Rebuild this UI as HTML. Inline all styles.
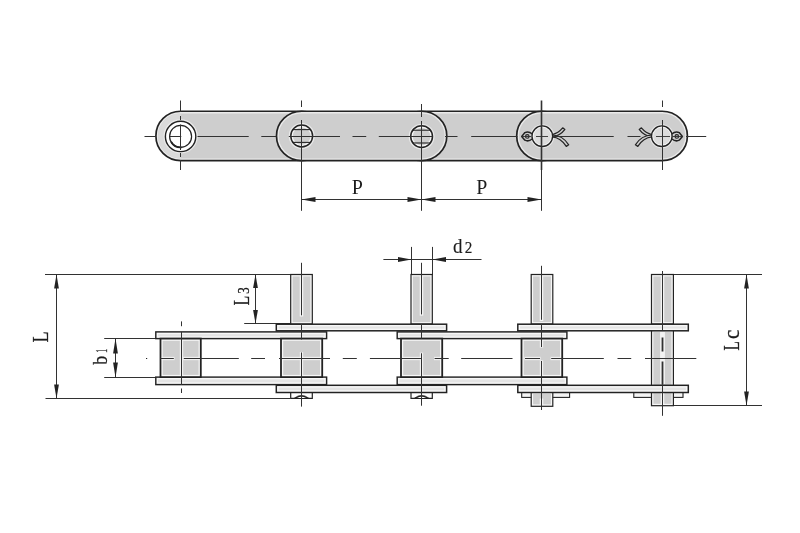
<!DOCTYPE html>
<html><head><meta charset="utf-8"><title>Chain drawing</title>
<style>
html,body{margin:0;padding:0;background:#fff;}
body{width:800px;height:533px;overflow:hidden;}
svg{display:block;filter:grayscale(1);}
svg text{font-family:"Liberation Serif","DejaVu Serif",serif;fill:#1c1c1c;stroke:#1c1c1c;}
</style></head><body>
<svg width="800" height="533" viewBox="0 0 800 533">
<defs><filter id="soft" x="0" y="0" width="800" height="533" filterUnits="userSpaceOnUse"><feGaussianBlur stdDeviation="0.5"/></filter></defs>
<rect x="0" y="0" width="800" height="533" fill="#ffffff"/>
<g filter="url(#soft)">
<path d="M180.6,111.25 L301.7,111.25 A25.2,24.65 0 0 1 301.7,160.55 L180.6,160.55 A24.7,24.65 0 0 1 180.6,111.25 Z" fill="#eaeaea" stroke="#242424" stroke-width="1.7"/>
<path d="M180.6,113.4 L301.7,113.4 A23.05,22.5 0 0 1 301.7,158.4 L180.6,158.4 A22.55,22.5 0 0 1 180.6,113.4 Z" fill="#cecece"/>
<path d="M180.6,113.35 A22.599999999999998,22.549999999999997 0 0 0 180.6,158.45000000000002 Z" fill="#dadada"/>
<path d="M421.6,111.25 L541.9,111.25 A25.2,24.65 0 0 1 541.9,160.55 L421.6,160.55 A25.2,24.65 0 0 1 421.6,111.25 Z" fill="#eaeaea" stroke="#242424" stroke-width="1.7"/>
<path d="M421.6,113.4 L541.9,113.4 A23.05,22.5 0 0 1 541.9,158.4 L421.6,158.4 A23.05,22.5 0 0 1 421.6,113.4 Z" fill="#cecece"/>
<path d="M301.7,111.25 L421.6,111.25 A25.2,24.65 0 0 1 421.6,160.55 L301.7,160.55 A25.2,24.65 0 0 1 301.7,111.25 Z" fill="#eaeaea" stroke="#242424" stroke-width="1.7"/>
<path d="M301.7,113.4 L421.6,113.4 A23.05,22.5 0 0 1 421.6,158.4 L301.7,158.4 A23.05,22.5 0 0 1 301.7,113.4 Z" fill="#cecece"/>
<path d="M541.9,111.25 L662.2,111.25 A25.2,24.65 0 0 1 662.2,160.55 L541.9,160.55 A25.2,24.65 0 0 1 541.9,111.25 Z" fill="#eaeaea" stroke="#242424" stroke-width="1.7"/>
<path d="M541.9,113.4 L662.2,113.4 A23.05,22.5 0 0 1 662.2,158.4 L541.9,158.4 A23.05,22.5 0 0 1 541.9,113.4 Z" fill="#cecece"/>
<circle cx="180.6" cy="136.4" r="17.2" fill="#eaeaea"/>
<circle cx="180.6" cy="136.4" r="15.2" fill="#fff" stroke="#242424" stroke-width="1.4"/>
<circle cx="180.6" cy="136.4" r="11.0" fill="#fff" stroke="#242424" stroke-width="1.2"/>
<path d="M171.2,142.0 A11,11 0 0 0 181.6,147.4" fill="none" stroke="#242424" stroke-width="1.8"/>
<circle cx="301.7" cy="136.0" r="12.950000000000001" fill="#eaeaea"/>
<circle cx="301.7" cy="136.0" r="10.9" fill="#f7f7f7" stroke="#242424" stroke-width="1.5"/>
<circle cx="301.7" cy="136.0" r="8.85" fill="#cecece"/>
<line x1="292.8" y1="129.6" x2="310.59999999999997" y2="129.6" stroke="#242424" stroke-width="1.1" />
<line x1="292.8" y1="142.4" x2="310.59999999999997" y2="142.4" stroke="#242424" stroke-width="1.1" />
<circle cx="421.6" cy="136.6" r="12.950000000000001" fill="#eaeaea"/>
<circle cx="421.6" cy="136.6" r="10.9" fill="#f7f7f7" stroke="#242424" stroke-width="1.5"/>
<circle cx="421.6" cy="136.6" r="8.85" fill="#cecece"/>
<line x1="412.70000000000005" y1="130.2" x2="430.5" y2="130.2" stroke="#242424" stroke-width="1.1" />
<line x1="412.70000000000005" y1="143.0" x2="430.5" y2="143.0" stroke="#242424" stroke-width="1.1" />
<circle cx="542.3" cy="136.20000000000002" r="12.0" fill="#eaeaea"/>
<g transform="translate(541.9,136.4) scale(1,1)">
<path d="M10.2,-1.8 Q16.5,-3.4 20.8,-8.6 L23,-7 Q18.5,-0.8 10.2,0.6 Z" fill="#cecece" stroke="#242424" stroke-width="1.25" stroke-linejoin="round"/>
<path d="M10.2,0.4 Q19,1.2 24.4,10 L26.8,8.4 Q21,-1 10.2,-1.4 Z" fill="#cecece" stroke="#242424" stroke-width="1.25" stroke-linejoin="round"/>
<path d="M-9.6,-2.6 Q-13.6,-5.6 -17,-3.8 L-20.2,-0 L-17,3.8 Q-13.6,5.6 -9.6,2.6" fill="#cecece" stroke="#242424" stroke-width="1.5" stroke-linejoin="round"/>
<circle cx="-14.6" cy="0" r="1.8" fill="#bdbdbd" stroke="#242424" stroke-width="1.1"/>
</g>
<circle cx="542.3" cy="136.20000000000002" r="10.3" fill="#f7f7f7" stroke="#242424" stroke-width="1.4"/>
<circle cx="542.3" cy="136.20000000000002" r="8.600000000000001" fill="#dcdcdc"/>
<circle cx="661.8000000000001" cy="136.20000000000002" r="12.0" fill="#eaeaea"/>
<g transform="translate(662.2,136.4) scale(-1,1)">
<path d="M10.2,-1.8 Q16.5,-3.4 20.8,-8.6 L23,-7 Q18.5,-0.8 10.2,0.6 Z" fill="#cecece" stroke="#242424" stroke-width="1.25" stroke-linejoin="round"/>
<path d="M10.2,0.4 Q19,1.2 24.4,10 L26.8,8.4 Q21,-1 10.2,-1.4 Z" fill="#cecece" stroke="#242424" stroke-width="1.25" stroke-linejoin="round"/>
<path d="M-9.6,-2.6 Q-13.6,-5.6 -17,-3.8 L-20.2,-0 L-17,3.8 Q-13.6,5.6 -9.6,2.6" fill="#cecece" stroke="#242424" stroke-width="1.5" stroke-linejoin="round"/>
<circle cx="-14.6" cy="0" r="1.8" fill="#bdbdbd" stroke="#242424" stroke-width="1.1"/>
</g>
<circle cx="661.8000000000001" cy="136.20000000000002" r="10.3" fill="#f7f7f7" stroke="#242424" stroke-width="1.4"/>
<circle cx="661.8000000000001" cy="136.20000000000002" r="8.600000000000001" fill="#dcdcdc"/>
<line x1="144.5" y1="136.5" x2="156" y2="136.5" stroke="#303030" stroke-width="1.05"/>
<line x1="170" y1="136.5" x2="181.3" y2="136.5" stroke="#303030" stroke-width="1.05"/>
<line x1="197.5" y1="136.5" x2="248.7" y2="136.5" stroke="#303030" stroke-width="1.05"/>
<line x1="261.3" y1="136.5" x2="276.2" y2="136.5" stroke="#303030" stroke-width="1.05"/>
<line x1="288.8" y1="136.5" x2="340" y2="136.5" stroke="#303030" stroke-width="1.05"/>
<line x1="352.5" y1="136.5" x2="366.2" y2="136.5" stroke="#303030" stroke-width="1.05"/>
<line x1="378.8" y1="136.5" x2="432.5" y2="136.5" stroke="#303030" stroke-width="1.05"/>
<line x1="445" y1="136.5" x2="457.5" y2="136.5" stroke="#303030" stroke-width="1.05"/>
<line x1="471.2" y1="136.5" x2="517.5" y2="136.5" stroke="#303030" stroke-width="1.05"/>
<line x1="552.5" y1="136.5" x2="613.7" y2="136.5" stroke="#303030" stroke-width="1.05"/>
<line x1="627.5" y1="136.5" x2="640.5" y2="136.5" stroke="#303030" stroke-width="1.05"/>
<line x1="686" y1="136.5" x2="706.2" y2="136.5" stroke="#303030" stroke-width="1.05"/>
<line x1="521" y1="136.5" x2="531" y2="136.5" stroke="#303030" stroke-width="0.9"/>
<line x1="536" y1="136.5" x2="548" y2="136.5" stroke="#303030" stroke-width="0.9"/>
<line x1="656" y1="136.5" x2="670" y2="136.5" stroke="#303030" stroke-width="0.9"/>
<line x1="672.5" y1="136.5" x2="683" y2="136.5" stroke="#303030" stroke-width="0.9"/>
<line x1="180.5" y1="100.5" x2="180.5" y2="112" stroke="#303030" stroke-width="1.05"/>
<line x1="180.5" y1="116" x2="180.5" y2="120" stroke="#303030" stroke-width="1.05"/>
<line x1="180.5" y1="124.5" x2="180.5" y2="150" stroke="#303030" stroke-width="1.05"/>
<line x1="180.5" y1="153" x2="180.5" y2="157" stroke="#303030" stroke-width="1.05"/>
<line x1="180.5" y1="160" x2="180.5" y2="170" stroke="#303030" stroke-width="1.05"/>
<line x1="301.5" y1="100.5" x2="301.5" y2="107" stroke="#303030" stroke-width="1.05"/>
<line x1="301.5" y1="120" x2="301.5" y2="170" stroke="#303030" stroke-width="1.05"/>
<line x1="421.5" y1="104" x2="421.5" y2="117" stroke="#303030" stroke-width="1.05"/>
<line x1="421.5" y1="121" x2="421.5" y2="170" stroke="#303030" stroke-width="1.05"/>
<line x1="541.5" y1="100.5" x2="541.5" y2="170" stroke="#303030" stroke-width="1.6"/>
<line x1="662.5" y1="100.5" x2="662.5" y2="107" stroke="#303030" stroke-width="1.05"/>
<line x1="662.5" y1="120" x2="662.5" y2="170" stroke="#303030" stroke-width="1.05"/>
<line x1="301.5" y1="170" x2="301.5" y2="210.8" stroke="#303030" stroke-width="1.05"/>
<line x1="421.5" y1="170" x2="421.5" y2="210.8" stroke="#303030" stroke-width="1.05"/>
<line x1="541.5" y1="170" x2="541.5" y2="210.8" stroke="#303030" stroke-width="1.05"/>
<line x1="301.5" y1="199.5" x2="421.5" y2="199.5" stroke="#303030" stroke-width="1.05"/>
<line x1="421.5" y1="199.5" x2="541.5" y2="199.5" stroke="#303030" stroke-width="1.05"/>
<polygon points="301.5,199.5 315.5,197.1 315.5,201.9" fill="#242424"/>
<polygon points="421.5,199.5 407.5,197.1 407.5,201.9" fill="#242424"/>
<polygon points="421.5,199.5 435.5,197.1 435.5,201.9" fill="#242424"/>
<polygon points="541.5,199.5 527.5,197.1 527.5,201.9" fill="#242424"/>
<line x1="45" y1="274.5" x2="312.2" y2="274.5" stroke="#303030" stroke-width="1.05"/>
<line x1="45.5" y1="398.5" x2="290" y2="398.5" stroke="#303030" stroke-width="1.05"/>
<line x1="56.5" y1="274.8" x2="56.5" y2="398.4" stroke="#303030" stroke-width="1.05"/>
<polygon points="56.5,274.5 54.1,288.5 58.9,288.5" fill="#242424"/>
<polygon points="56.5,398.5 54.1,384.5 58.9,384.5" fill="#242424"/>
<line x1="104.2" y1="338.5" x2="160.5" y2="338.5" stroke="#303030" stroke-width="1.05"/>
<line x1="104.2" y1="377.5" x2="160.5" y2="377.5" stroke="#303030" stroke-width="1.05"/>
<line x1="115.5" y1="338.6" x2="115.5" y2="377.1" stroke="#303030" stroke-width="1.05"/>
<polygon points="115.5,338.5 113.1,353.5 117.9,353.5" fill="#242424"/>
<polygon points="115.5,377.5 113.1,362.5 117.9,362.5" fill="#242424"/>
<line x1="244.2" y1="323.5" x2="290.7" y2="323.5" stroke="#303030" stroke-width="1.05"/>
<line x1="255.5" y1="274.8" x2="255.5" y2="323.9" stroke="#303030" stroke-width="1.05"/>
<polygon points="255.5,274.5 253.1,288.0 257.9,288.0" fill="#242424"/>
<polygon points="255.5,323.5 253.1,310.0 257.9,310.0" fill="#242424"/>
<line x1="411.5" y1="246.9" x2="411.5" y2="275" stroke="#303030" stroke-width="1.05"/>
<line x1="432.5" y1="246.9" x2="432.5" y2="275" stroke="#303030" stroke-width="1.05"/>
<line x1="383.4" y1="259.5" x2="481.5" y2="259.5" stroke="#303030" stroke-width="1.05"/>
<polygon points="411.5,259.5 398.0,257.1 398.0,261.9" fill="#242424"/>
<polygon points="432.5,259.5 446.0,257.1 446.0,261.9" fill="#242424"/>
<line x1="673.4" y1="274.5" x2="762" y2="274.5" stroke="#303030" stroke-width="1.05"/>
<line x1="673.4" y1="405.5" x2="762" y2="405.5" stroke="#303030" stroke-width="1.05"/>
<line x1="746.5" y1="274.8" x2="746.5" y2="405.7" stroke="#303030" stroke-width="1.05"/>
<polygon points="746.5,274.5 744.1,288.5 748.9,288.5" fill="#242424"/>
<polygon points="746.5,405.5 744.1,391.5 748.9,391.5" fill="#242424"/>
<rect x="290.7" y="274.5" width="21.6" height="49.5" fill="#f7f7f7" stroke="#242424" stroke-width="1.2"/>
<rect x="292.6" y="276.4" width="17.8" height="45.7" fill="#cecece"/>
<rect x="411" y="274.5" width="21.3" height="49.5" fill="#f7f7f7" stroke="#242424" stroke-width="1.2"/>
<rect x="412.9" y="276.4" width="17.5" height="45.7" fill="#cecece"/>
<rect x="531.2" y="274.5" width="21.6" height="49.5" fill="#f7f7f7" stroke="#242424" stroke-width="1.2"/>
<rect x="533.1" y="276.4" width="17.8" height="45.7" fill="#cecece"/>
<rect x="651.5" y="274.5" width="21.9" height="49.5" fill="#f7f7f7" stroke="#242424" stroke-width="1.2"/>
<rect x="653.4" y="276.4" width="18.1" height="45.7" fill="#cecece"/>
<path d="M290.7,392.5 L290.7,398.3 L312.3,398.3 L312.3,392.5" fill="#fff" stroke="#242424" stroke-width="1.2"/>
<path d="M294.5,398 Q301.5,392.6 308.5,398 Z" fill="#242424" stroke="#242424" stroke-width="0.6"/>
<path d="M297.0,398 Q301.5,395.4 306.0,398 Z" fill="#fff"/>
<path d="M411,392.5 L411,398.3 L432.3,398.3 L432.3,392.5" fill="#fff" stroke="#242424" stroke-width="1.2"/>
<path d="M414.65,398 Q421.65,392.6 428.65,398 Z" fill="#242424" stroke="#242424" stroke-width="0.6"/>
<path d="M417.15,398 Q421.65,395.4 426.15,398 Z" fill="#fff"/>
<rect x="521.7" y="391.8" width="47.9" height="5.6" fill="#f7f7f7" stroke="#242424" stroke-width="1.1"/>
<rect x="523.55" y="393.65" width="44.2" height="1.9" fill="#f4f4f4"/>
<rect x="633.8" y="391.8" width="49.2" height="5.6" fill="#f7f7f7" stroke="#242424" stroke-width="1.1"/>
<rect x="635.65" y="393.65" width="45.5" height="1.9" fill="#f4f4f4"/>
<rect x="531.2" y="391.8" width="21.6" height="14.5" fill="#f7f7f7" stroke="#242424" stroke-width="1.2"/>
<rect x="533.1" y="393.7" width="17.8" height="10.7" fill="#cecece"/>
<rect x="651.5" y="330" width="21.9" height="75.7" fill="#f7f7f7" stroke="#242424" stroke-width="1.2"/>
<rect x="653.4" y="331.9" width="18.1" height="71.9" fill="#cecece"/>
<rect x="155.8" y="331.9" width="170.8" height="6.7" fill="#f7f7f7" stroke="#242424" stroke-width="1.45"/>
<rect x="158.03" y="334.12" width="166.35" height="2.25" fill="#e4e4e4"/>
<rect x="155.8" y="377.1" width="170.8" height="7.5" fill="#f7f7f7" stroke="#242424" stroke-width="1.45"/>
<rect x="158.03" y="379.33" width="166.35" height="3.05" fill="#e4e4e4"/>
<rect x="397.2" y="331.9" width="169.7" height="6.7" fill="#f7f7f7" stroke="#242424" stroke-width="1.45"/>
<rect x="399.43" y="334.12" width="165.25" height="2.25" fill="#e4e4e4"/>
<rect x="397.2" y="377.1" width="169.7" height="7.5" fill="#f7f7f7" stroke="#242424" stroke-width="1.45"/>
<rect x="399.43" y="379.33" width="165.25" height="3.05" fill="#e4e4e4"/>
<rect x="276.3" y="324.2" width="170.3" height="6.6" fill="#f7f7f7" stroke="#242424" stroke-width="1.5"/>
<rect x="278.55" y="326.45" width="165.8" height="2.1" fill="#e4e4e4"/>
<rect x="276.3" y="385.3" width="170.3" height="7.2" fill="#f7f7f7" stroke="#242424" stroke-width="1.5"/>
<rect x="278.55" y="387.55" width="165.8" height="2.7" fill="#e4e4e4"/>
<rect x="517.8" y="324.2" width="170.5" height="6.6" fill="#f7f7f7" stroke="#242424" stroke-width="1.5"/>
<rect x="520.05" y="326.45" width="166.0" height="2.1" fill="#e4e4e4"/>
<rect x="517.8" y="385.3" width="170.5" height="7.2" fill="#f7f7f7" stroke="#242424" stroke-width="1.5"/>
<rect x="520.05" y="387.55" width="166.0" height="2.7" fill="#e4e4e4"/>
<rect x="160.5" y="338.6" width="40.3" height="38.5" fill="#f7f7f7" stroke="#242424" stroke-width="1.8"/>
<rect x="162.7" y="340.8" width="35.9" height="34.1" fill="#cecece"/>
<rect x="179.8" y="340" width="3.4" height="35.8" fill="#f7f7f7" opacity="0.85"/>
<rect x="161.8" y="356.8" width="12.7" height="3.4" fill="#f7f7f7" opacity="0.85"/>
<rect x="183" y="356.8" width="16.6" height="3.4" fill="#f7f7f7" opacity="0.85"/>
<rect x="281" y="338.6" width="41.2" height="38.5" fill="#f7f7f7" stroke="#242424" stroke-width="1.8"/>
<rect x="283.2" y="340.8" width="36.8" height="34.1" fill="#cecece"/>
<rect x="299.8" y="352" width="3.4" height="23.8" fill="#f7f7f7" opacity="0.85"/>
<rect x="282.2" y="356.8" width="38.8" height="3.4" fill="#f7f7f7" opacity="0.85"/>
<rect x="401" y="338.6" width="41.2" height="38.5" fill="#f7f7f7" stroke="#242424" stroke-width="1.8"/>
<rect x="403.2" y="340.8" width="36.8" height="34.1" fill="#cecece"/>
<rect x="419.8" y="352.6" width="3.4" height="23.2" fill="#f7f7f7" opacity="0.85"/>
<rect x="402.2" y="356.8" width="19.8" height="3.4" fill="#f7f7f7" opacity="0.85"/>
<rect x="434" y="356.8" width="7.0" height="3.4" fill="#f7f7f7" opacity="0.85"/>
<rect x="521.5" y="338.6" width="40.7" height="38.5" fill="#f7f7f7" stroke="#242424" stroke-width="1.8"/>
<rect x="523.7" y="340.8" width="36.3" height="34.1" fill="#cecece"/>
<rect x="539.8" y="340" width="3.4" height="7.6" fill="#f7f7f7" opacity="0.85"/>
<rect x="539.8" y="360.4" width="3.4" height="15.4" fill="#f7f7f7" opacity="0.85"/>
<rect x="524.4" y="356.8" width="16.2" height="3.4" fill="#f7f7f7" opacity="0.85"/>
<rect x="550.6" y="356.8" width="10.4" height="3.4" fill="#f7f7f7" opacity="0.85"/>
<rect x="299.7" y="276.2" width="3.6" height="40.3" fill="#f7f7f7" opacity="0.9"/>
<rect x="419.7" y="276.2" width="3.6" height="39.4" fill="#f7f7f7" opacity="0.9"/>
<rect x="539.7" y="276.2" width="3.6" height="44.8" fill="#f7f7f7" opacity="0.9"/>
<rect x="660.7" y="276.2" width="3.6" height="46.6" fill="#f7f7f7" opacity="0.9"/>
<rect x="660.1" y="332" width="4.8" height="52" fill="#f7f7f7" opacity="0.9"/>
<rect x="660.7" y="393.5" width="3.6" height="11" fill="#f7f7f7" opacity="0.9"/>
<rect x="539.7" y="398.5" width="3.6" height="6.5" fill="#f7f7f7" opacity="0.9"/>
<line x1="301.5" y1="262.8" x2="301.5" y2="315.3" stroke="#303030" stroke-width="1.05"/>
<line x1="421.5" y1="262.8" x2="421.5" y2="314.4" stroke="#303030" stroke-width="1.05"/>
<line x1="541.5" y1="265.8" x2="541.5" y2="319.8" stroke="#303030" stroke-width="1.05"/>
<line x1="662.5" y1="271" x2="662.5" y2="330" stroke="#303030" stroke-width="1.05"/>
<line x1="181.5" y1="321.4" x2="181.5" y2="326.2" stroke="#303030" stroke-width="1.05"/>
<line x1="181.5" y1="331.8" x2="181.5" y2="385" stroke="#303030" stroke-width="1.05"/>
<line x1="181.5" y1="388.5" x2="181.5" y2="393" stroke="#303030" stroke-width="1.05"/>
<line x1="301.5" y1="324" x2="301.5" y2="339.5" stroke="#303030" stroke-width="1.05"/>
<line x1="301.5" y1="352.5" x2="301.5" y2="406.6" stroke="#303030" stroke-width="1.05"/>
<line x1="421.5" y1="324" x2="421.5" y2="339" stroke="#303030" stroke-width="1.05"/>
<line x1="421.5" y1="353.3" x2="421.5" y2="405.7" stroke="#303030" stroke-width="1.05"/>
<line x1="541.5" y1="324" x2="541.5" y2="347" stroke="#303030" stroke-width="1.05"/>
<line x1="541.5" y1="361" x2="541.5" y2="410" stroke="#303030" stroke-width="1.05"/>
<line x1="662.5" y1="337.5" x2="662.5" y2="351.5" stroke="#303030" stroke-width="1.8"/>
<line x1="662.5" y1="361.5" x2="662.5" y2="384.5" stroke="#303030" stroke-width="1.8"/>
<line x1="662.5" y1="384.3" x2="662.5" y2="415.8" stroke="#303030" stroke-width="1.05"/>
<rect x="146" y="358" width="1.2" height="1" fill="#242424"/>
<line x1="160" y1="358.5" x2="173.8" y2="358.5" stroke="#303030" stroke-width="1.05"/>
<line x1="183.8" y1="358.5" x2="238.8" y2="358.5" stroke="#303030" stroke-width="1.05"/>
<line x1="251.2" y1="358.5" x2="265" y2="358.5" stroke="#303030" stroke-width="1.05"/>
<line x1="279" y1="358.5" x2="330" y2="358.5" stroke="#303030" stroke-width="1.05"/>
<line x1="342.8" y1="358.5" x2="356.8" y2="358.5" stroke="#303030" stroke-width="1.05"/>
<line x1="369.9" y1="358.5" x2="421.5" y2="358.5" stroke="#303030" stroke-width="1.05"/>
<line x1="434.6" y1="358.5" x2="448.7" y2="358.5" stroke="#303030" stroke-width="1.05"/>
<line x1="461.2" y1="358.5" x2="512.5" y2="358.5" stroke="#303030" stroke-width="1.05"/>
<line x1="525" y1="358.5" x2="540" y2="358.5" stroke="#303030" stroke-width="1.05"/>
<line x1="551.2" y1="358.5" x2="603.8" y2="358.5" stroke="#303030" stroke-width="1.05"/>
<line x1="617.5" y1="358.5" x2="631.2" y2="358.5" stroke="#303030" stroke-width="1.05"/>
<line x1="645" y1="358.5" x2="696.3" y2="358.5" stroke="#303030" stroke-width="1.05"/>
<text transform="translate(351.77,193.80) rotate(0) scale(0.923,1)" font-size="21.69" stroke-width="0.0" fill="#2e2e2e">P</text>
<text transform="translate(476.13,193.80) rotate(0) scale(0.918,1)" font-size="21.69" stroke-width="0.0" fill="#2e2e2e">P</text>
<text transform="translate(48.30,342.52) rotate(-90) scale(0.822,1)" font-size="22.14" stroke-width="0.25">L</text>
<text transform="translate(106.80,364.70) rotate(-90) scale(0.856,1)" font-size="20.75" stroke-width="0.25">b<tspan x="13.82" y="-0.20" font-size="15.90" textLength="4.48" lengthAdjust="spacingAndGlyphs">1</tspan></text>
<text transform="translate(248.65,305.46) rotate(-90) scale(0.710,1)" font-size="22.68" stroke-width="0.25">L<tspan x="16.40" y="0.18" font-size="17.12" textLength="9.21" lengthAdjust="spacingAndGlyphs">3</tspan></text>
<text transform="translate(453.01,252.80) rotate(0) scale(0.937,1)" font-size="20.32" stroke-width="0.15">d<tspan x="12.62" y="0.20" font-size="15.86" textLength="8.12" lengthAdjust="spacingAndGlyphs">2</tspan></text>
<text transform="translate(738.80,350.44) rotate(-90) scale(0.687,1)" font-size="22.30" stroke-width="0.25">L<tspan x="16.79" y="0.38" font-size="22.25" textLength="13.52" lengthAdjust="spacingAndGlyphs">c</tspan></text>
</g>
</svg>
</body></html>
